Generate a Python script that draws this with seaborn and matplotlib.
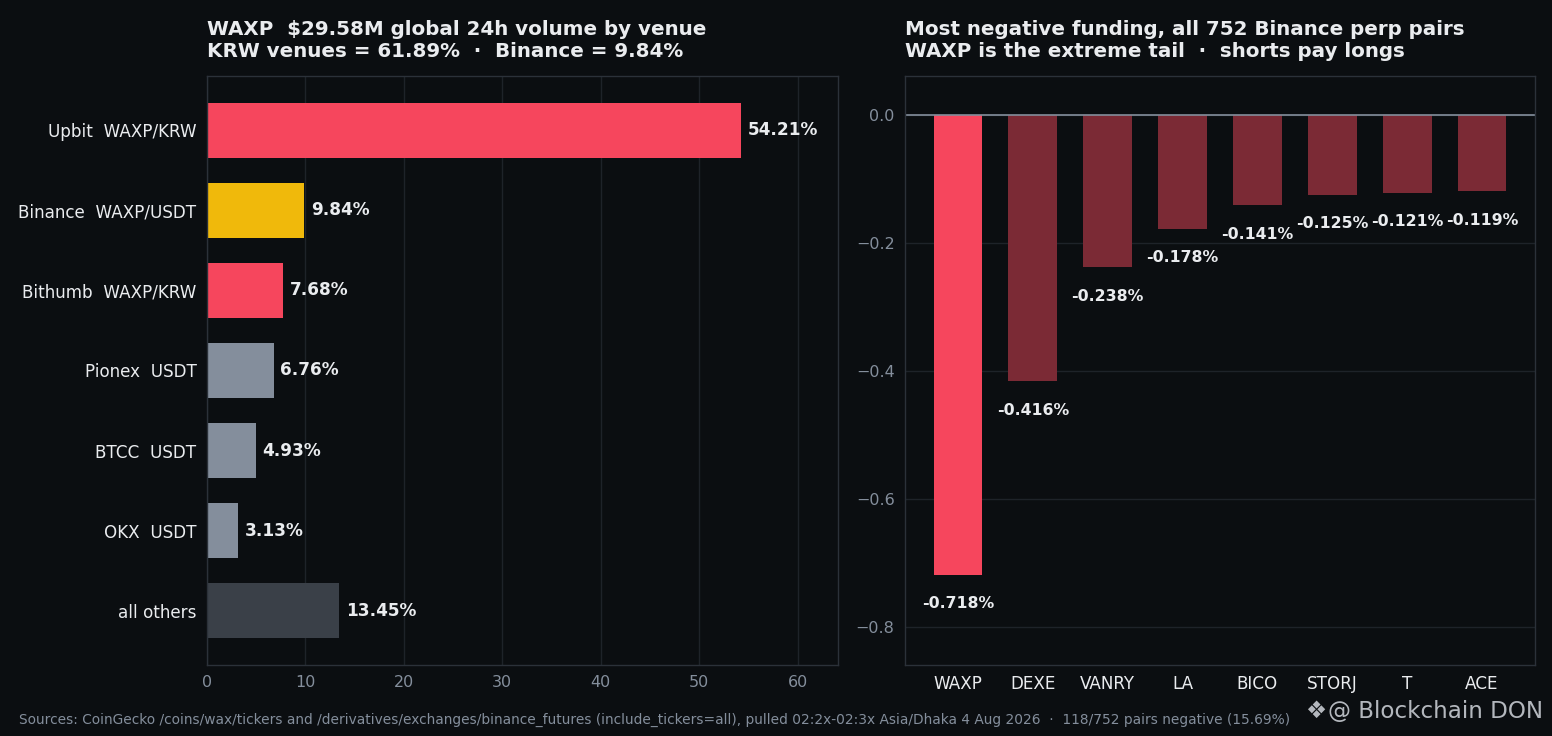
import pandas as pd
import seaborn as sns
import matplotlib.pyplot as plt

# Venue share of 24h volume (%)
venues = ['Upbit  WAXP/KRW', 'Binance  WAXP/USDT', 'Bithumb  WAXP/KRW',
          'Pionex  USDT', 'BTCC  USDT', 'OKX  USDT', 'all others']
venue_share = [54.21, 9.84, 7.68, 6.76, 4.93, 3.13, 13.45]
venue_colors = ['#F6465D', '#F0B90B', '#F6465D', '#848E9C', '#848E9C', '#848E9C', '#3A4048']

# Most negative funding rates (%)
pairs = ['WAXP', 'DEXE', 'VANRY', 'LA', 'BICO', 'STORJ', 'T', 'ACE']
funding = [-0.718, -0.416, -0.238, -0.178, -0.141, -0.125, -0.121, -0.119]
pair_colors = ['#F6465D'] + ['#7B2A35'] * 7

BG = '#0B0E11'
GRID = '#1E2329'
SPINE = '#2B3139'
TXT = '#EAECEF'
MUTED = '#848E9C'

sns.set_theme(style='dark')
plt.rcParams['font.family'] = ['DejaVu Sans']

fig = plt.figure(figsize=(15.52, 7.36), dpi=100, facecolor=BG)
ax1 = fig.add_axes([207/1552, 1 - 665/736, 631/1552, 589/736])
ax2 = fig.add_axes([905/1552, 1 - 665/736, 630/1552, 589/736])

df_v = pd.DataFrame({'venue': venues, 'share': venue_share})
sns.barplot(data=df_v, x='share', y='venue', hue='venue', palette=venue_colors,
            legend=False, orient='h', width=0.69, ax=ax1, saturation=1, linewidth=0)
for i, v in enumerate(venue_share):
    ax1.text(v + 0.7, i, f'{v:.2f}%', va='center', ha='left',
             color=TXT, fontsize=12.2, fontweight='bold')
ax1.set_xlim(0, 64.1)
ax1.set_ylim(6.68, -0.68)
ax1.set_xticks(range(0, 61, 10))
ax1.set_xlabel('')
ax1.set_ylabel('')
ax1.tick_params(axis='y', colors=MUTED, labelcolor=TXT, labelsize=12.1, length=4, width=1)
ax1.tick_params(axis='x', colors=MUTED, labelcolor=MUTED, labelsize=11.5, length=4, width=1)
ax1.grid(axis='x', color=GRID, linewidth=1)
ax1.grid(axis='y', visible=False)
ax1.set_axisbelow(True)
ax1.set_title('WAXP  $29.58M global 24h volume by venue\nKRW venues = 61.89%  \u00b7  Binance = 9.84%',
              loc='left', color=TXT, fontsize=14.35, fontweight='bold', pad=14, ha='left')

df_f = pd.DataFrame({'pair': pairs, 'funding': funding})
sns.barplot(data=df_f, x='pair', y='funding', hue='pair', palette=pair_colors,
            legend=False, width=0.65, ax=ax2, saturation=1, linewidth=0)
for i, v in enumerate(funding):
    ax2.text(i, v - 0.045, f'{v:.3f}%', va='center', ha='center',
             color=TXT, fontsize=11.3, fontweight='bold')
ax2.axhline(0, color=MUTED, linewidth=1.2)
ax2.set_ylim(-0.859, 0.061)
ax2.set_xlim(-0.707, 7.707)
ax2.set_yticks([0.0, -0.2, -0.4, -0.6, -0.8])
ax2.set_xlabel('')
ax2.set_ylabel('')
ax2.tick_params(axis='x', colors=MUTED, labelcolor=TXT, labelsize=12.1, length=4, width=1)
ax2.tick_params(axis='y', colors=MUTED, labelcolor=MUTED, labelsize=11.5, length=4, width=1)
ax2.grid(axis='y', color=GRID, linewidth=1)
ax2.grid(axis='x', visible=False)
ax2.set_axisbelow(True)
ax2.set_title('Most negative funding, all 752 Binance perp pairs\nWAXP is the extreme tail  \u00b7  shorts pay longs',
              loc='left', color=TXT, fontsize=14.35, fontweight='bold', pad=14, ha='left')

for ax in (ax1, ax2):
    ax.set_facecolor(BG)
    for s in ax.spines.values():
        s.set_color(SPINE)
        s.set_linewidth(1)

fig.text(19/1552, 1 - 720/736,
         'Sources: CoinGecko /coins/wax/tickers and /derivatives/exchanges/binance_futures (include_tickers=all), '
         'pulled 02:2x-02:3x Asia/Dhaka 4 Aug 2026  \u00b7  118/752 pairs negative (15.69%)',
         color=MUTED, fontsize=9.9, va='center', ha='left')
fig.text(1316/1552, 1 - 711/736, '\u2756', color='#C7CBD1',
         fontsize=17, va='center', ha='center', alpha=0.9)
fig.text(1543/1552, 1 - 711/736, '@ Blockchain DON', color='#C7CBD1',
         fontsize=16.6, va='center', ha='right', alpha=0.9)

fig.savefig('out.png', dpi=100, facecolor=BG)
